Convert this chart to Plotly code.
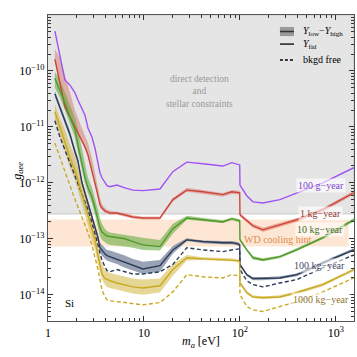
import plotly.graph_objects as go

# ---------------- data ----------------
m_eV = [1.18, 1.33, 1.50, 1.69, 1.91, 2.05, 2.26, 2.43, 2.61, 2.87, 3.09, 3.32, 3.48, 3.65,
        3.92, 4.12, 4.43, 5.23, 6.34, 7.68, 9.77, 14.7, 20.0, 28.0, 41.2, 66.5, 82.5, 95.3,
        99.7, 100.3, 118, 137, 174, 261, 392, 732, 1540]

# log10(g_aee) values
lg_100g = [-9.29, -9.71, -10.16, -10.25, -10.39, -10.52, -10.66, -10.79, -11.02, -11.18, -11.38, -11.63,
           -11.82, -11.91, -12.0, -12.05, -12.07, -12.04, -12.09, -12.13, -12.14, -12.11, -11.80, -11.63,
           -11.66, -11.70, -11.64, -11.68, -11.68, -12.04, -12.23, -12.34, -12.36, -12.30, -12.18, -12.0, -11.73]

lg_1kg = [-9.79, -10.21, -10.64, -10.82, -11.0, -11.09, -11.23, -11.36, -11.5, -11.77, -12.0, -12.23,
          -12.39, -12.45, -12.5, -12.52, -12.54, -12.54, -12.57, -12.61, -12.63, -12.63, -12.30, -12.13,
          -12.16, -12.21, -12.16, -12.18, -12.18, -12.57, -12.68, -12.77, -12.84, -12.75, -12.66, -12.48, -12.18]
lg_1kg_hi = [-9.61, -9.77, -10.07, -10.39, -10.70, -10.84, -11.02, -11.14, -11.29, -11.55, -11.80, -12.09,
             -12.27, -12.38, -12.45, -12.48, -12.50, -12.52, -12.54, -12.58, -12.60, -12.60, -12.27, -12.09,
             -12.13, -12.18, -12.13, -12.14, -12.14, -12.54, -12.64, -12.73, -12.80, -12.71, -12.63, -12.45, -12.14]
lg_1kg_lo = [-9.82, -10.25, -10.68, -10.86, -11.04, -11.13, -11.27, -11.39, -11.54, -11.80, -12.04, -12.27,
             -12.43, -12.48, -12.54, -12.55, -12.57, -12.57, -12.61, -12.64, -12.66, -12.66, -12.34, -12.16,
             -12.20, -12.25, -12.20, -12.21, -12.21, -12.61, -12.71, -12.80, -12.88, -12.79, -12.70, -12.52, -12.21]

lg_10kg = [-10.13, -10.34, -10.57, -10.82, -11.05, -11.32, -11.68, -11.91, -12.09, -12.25, -12.45, -12.66,
           -12.80, -12.88, -12.93, -12.95, -12.96, -12.98, -13.0, -13.05, -13.11, -13.14, -12.82, -12.63,
           -12.66, -12.70, -12.64, -12.68, -12.68, -13.02, -13.20, -13.34, -13.38, -13.32, -13.20, -12.98, -12.66]
lg_10kg_hi = [-10.02, -10.16, -10.38, -10.61, -10.84, -11.05, -11.41, -11.68, -11.91, -12.09, -12.27, -12.48,
              -12.63, -12.73, -12.82, -12.86, -12.89, -12.91, -12.93, -12.96, -12.98, -13.02, -12.73, -12.59,
              -12.63, -12.67, -12.62, -12.65, -12.65, -12.99, -13.17, -13.31, -13.35, -13.30, -13.17, -12.96, -12.63]
lg_10kg_lo = [-10.30, -10.48, -10.70, -10.96, -11.20, -11.45, -11.80, -12.0, -12.18, -12.36, -12.57, -12.80,
              -12.95, -13.02, -13.07, -13.09, -13.11, -13.13, -13.14, -13.16, -13.20, -13.21, -12.91, -12.66,
              -12.69, -12.72, -12.67, -12.71, -12.71, -13.04, -13.22, -13.37, -13.40, -13.35, -13.22, -13.01, -12.69]

lg_100kg = [-10.41, -10.64, -10.88, -11.13, -11.45, -11.61, -12.0, -12.18, -12.36, -12.61, -12.77, -12.98,
            -13.16, -13.21, -13.27, -13.30, -13.32, -13.36, -13.41, -13.46, -13.54, -13.48, -13.20, -13.02,
            -13.05, -13.07, -13.07, -13.09, -13.11, -13.46, -13.64, -13.71, -13.71, -13.70, -13.64, -13.43, -13.20]
lg_100kg_hi = [-10.36, -10.59, -10.82, -11.07, -11.39, -11.55, -11.95, -12.13, -12.30, -12.55, -12.71, -12.93,
               -13.07, -13.11, -13.16, -13.20, -13.21, -13.25, -13.30, -13.36, -13.41, -13.38, -13.13, -12.99,
               -13.03, -13.04, -13.04, -13.06, -13.08, -13.44, -13.62, -13.69, -13.69, -13.67, -13.62, -13.40, -13.17]
lg_100kg_lo = [-10.46, -10.70, -10.93, -11.18, -11.5, -11.66, -12.05, -12.23, -12.41, -12.66, -12.82, -13.04,
               -13.23, -13.30, -13.36, -13.39, -13.41, -13.45, -13.52, -13.57, -13.63, -13.59, -13.27, -13.04,
               -13.08, -13.10, -13.10, -13.12, -13.13, -13.49, -13.67, -13.74, -13.74, -13.72, -13.67, -13.46, -13.22]
lg_100kg_free = [-10.89, -11.18, -11.41, -11.64, -11.86, -12.0, -12.21, -12.34, -12.48, -12.71, -12.89, -13.11,
                 -13.25, -13.38, -13.50, -13.57, -13.59, -13.55, -13.59, -13.63, -13.63, -13.59, -13.46, -13.16,
                 -13.20, -13.23, -13.20, -13.18, -13.18, -13.55, -13.75, -13.82, -13.86, -13.79, -13.73, -13.52, -13.29]

lg_1000kg = [-10.73, -11.02, -11.27, -11.55, -11.77, -11.95, -12.21, -12.39, -12.61, -12.84, -13.02, -13.30,
             -13.48, -13.63, -13.71, -13.73, -13.75, -13.79, -13.82, -13.86, -13.88, -13.84, -13.55, -13.34,
             -13.36, -13.38, -13.38, -13.39, -13.41, -13.79, -13.96, -14.04, -14.05, -14.04, -13.96, -13.82, -13.55]
lg_1000kg_hi = [-10.59, -10.84, -11.05, -11.32, -11.54, -11.71, -11.98, -12.16, -12.38, -12.63, -12.82, -13.11,
                -13.29, -13.45, -13.55, -13.59, -13.61, -13.64, -13.68, -13.71, -13.73, -13.71, -13.45, -13.29,
                -13.33, -13.35, -13.35, -13.37, -13.38, -13.76, -13.94, -14.01, -14.03, -14.01, -13.94, -13.79, -13.53]
lg_1000kg_lo = [-10.88, -11.16, -11.45, -11.73, -11.95, -12.13, -12.39, -12.57, -12.79, -13.02, -13.20, -13.46,
                -13.61, -13.73, -13.82, -13.86, -13.88, -13.91, -13.95, -13.98, -14.0, -13.96, -13.66, -13.39,
                -13.38, -13.40, -13.40, -13.42, -13.44, -13.81, -13.99, -14.06, -14.08, -14.06, -13.99, -13.85, -13.58]
lg_1000kg_free = [-11.29, -11.55, -11.80, -12.04, -12.30, -12.43, -12.61, -12.75, -12.89, -13.11, -13.32, -13.55,
                  -13.73, -13.91, -14.04, -14.09, -14.11, -14.13, -14.14, -14.16, -14.18, -14.14, -13.95, -13.64,
                  -13.68, -13.70, -13.64, -13.66, -13.68, -14.0, -14.21, -14.27, -14.30, -14.21, -14.13, -13.95, -13.70]

# shaded regions
excl_floor = 2.8e-13          # direct detection + stellar constraints (above)
g_top = 1e-9
m_min, m_max = 1.0, 1540.0
wd_lo, wd_hi, wd_m_max = 7.3e-14, 2.2e-13, 1360.0

x_tickvals = [1, 10, 100, 1000]
x_ticktext = ["1", "10", "10<sup>2</sup>", "10<sup>3</sup>"]
y_tickvals = [1e-14, 1e-13, 1e-12, 1e-11, 1e-10]
y_ticktext = ["10<sup>\u221214</sup>", "10<sup>\u221213</sup>", "10<sup>\u221212</sup>",
              "10<sup>\u221211</sup>", "10<sup>\u221210</sup>"]

# ---------------- styling ----------------
C_PURPLE = "#a052f5"
C_RED = "#cf4437"
C_GREEN = "#4f9a2a"
C_NAVY = "#2b3b58"
C_GOLD = "#c9a923"
SERIF = "Liberation Serif"


def pw(v):
    return [10 ** a for a in v]


fig = go.Figure()

fig.add_trace(go.Scatter(x=[m_min, m_max, m_max, m_min], y=[excl_floor, excl_floor, g_top, g_top],
                         fill="toself", fillcolor="#e5e5e5", mode="lines",
                         line=dict(color="#d3d3d3", width=1.5), hoverinfo="skip", showlegend=False))
fig.add_trace(go.Scatter(x=[m_min, wd_m_max, wd_m_max, m_min], y=[wd_lo, wd_lo, wd_hi, wd_hi],
                         fill="toself", fillcolor="#fde7d4", mode="lines",
                         line=dict(width=0), hoverinfo="skip", showlegend=False))


def band(lo, hi, fillcolor):
    fig.add_trace(go.Scatter(x=m_eV, y=pw(hi), mode="lines", line=dict(width=0),
                             hoverinfo="skip", showlegend=False))
    fig.add_trace(go.Scatter(x=m_eV, y=pw(lo), mode="lines", line=dict(width=0),
                             fill="tonexty", fillcolor=fillcolor, hoverinfo="skip", showlegend=False))


def line(v, color, dash="solid", width=1.4):
    fig.add_trace(go.Scatter(x=m_eV, y=pw(v), mode="lines",
                             line=dict(color=color, width=width, dash=dash),
                             hoverinfo="skip", showlegend=False))


band(lg_1kg_lo, lg_1kg_hi, "rgba(210,90,80,0.40)")
band(lg_10kg_lo, lg_10kg_hi, "rgba(95,165,55,0.55)")
band(lg_100kg_lo, lg_100kg_hi, "rgba(70,88,120,0.55)")
band(lg_1000kg_lo, lg_1000kg_hi, "rgba(205,175,45,0.50)")

line(lg_100g, C_PURPLE)
line(lg_1kg, C_RED)
line(lg_10kg, C_GREEN)
line(lg_100kg, C_NAVY)
line(lg_100kg_free, C_NAVY, dash="4px,2.5px")
line(lg_1000kg, C_GOLD)
line(lg_1000kg_free, C_GOLD, dash="4px,2.5px")

x_minor = [k * 10 ** d for d in range(0, 4) for k in range(2, 10) if k * 10 ** d <= m_max]
y_minor = [k * 10.0 ** d for d in range(-15, -9) for k in range(2, 10)]

axis_common = dict(type="log", showgrid=False, zeroline=False, showline=True, mirror="allticks",
                   linecolor="#555555", linewidth=1.3, ticks="inside", ticklen=5, tickwidth=1,
                   tickcolor="#333333", tickfont=dict(family=SERIF, size=12, color="black"),
                   tickmode="array")

fig.update_xaxes(**axis_common, range=[0, 3.19], tickvals=x_tickvals, ticktext=x_ticktext,
                 minor=dict(tickmode="array", tickvals=x_minor, ticks="inside", ticklen=2.5,
                            tickcolor="#333333", showgrid=False))
fig.update_yaxes(**axis_common, range=[-14.47, -9.0], tickvals=y_tickvals, ticktext=y_ticktext,
                 minor=dict(tickmode="array", tickvals=y_minor, ticks="inside", ticklen=2.5,
                            tickcolor="#333333", showgrid=False))

ann = []
# axis titles
ann.append(dict(xref="paper", yref="paper", x=0.5, y=-0.1, text="<i>m</i><sub><i>a</i></sub> [eV]",
                showarrow=False, font=dict(family=SERIF, size=12, color="black")))
ann.append(dict(xref="paper", yref="paper", x=-0.132, y=0.49, text="<i>g</i><sub><i>aee</i></sub>",
                textangle=-90, showarrow=False, font=dict(family=SERIF, size=12, color="black")))
# region texts
ann.append(dict(x=1.583, y=-10.36, text="direct detection<br>and<br>stellar constraints",
                showarrow=False, font=dict(family=SERIF, size=9.5, color="#999999")))
ann.append(dict(x=0.229, y=-14.14, text="Si", showarrow=False,
                font=dict(family=SERIF, size=11, color="black")))
ann.append(dict(x=2.396, y=-13.02, text="WD cooling hint", showarrow=False,
                font=dict(family=SERIF, size=10, color="#dd8b4c")))
# exposure labels
for txt, xx, yy, col in [("100 g\u2212year", 2.844, -12.05, "#7f45d0"),
                         ("1 kg\u2212year", 2.844, -12.55, "#8e3b35"),
                         ("10 kg\u2212year", 2.833, -12.84, "#3f6b27"),
                         ("100 kg\u2212year", 2.833, -13.48, "#3d4a66"),
                         ("1000 kg\u2212year", 2.844, -14.09, "#8c7634")]:
    ann.append(dict(x=xx, y=yy, text=txt, showarrow=False, bgcolor="rgba(255,255,255,0.6)",
                    borderpad=1, font=dict(family=SERIF, size=10, color=col)))

# manual legend
LX0, LX1, LXT = 0.758, 0.804, 0.827
shapes = [
    dict(type="rect", xref="paper", yref="paper", x0=LX0, x1=LX1, y0=0.931, y1=0.961,
         fillcolor="#9a9a9a", line=dict(width=0)),
    dict(type="line", xref="paper", yref="paper", x0=LX0, x1=LX1, y0=0.946, y1=0.946,
         line=dict(color="#333333", width=1.5)),
    dict(type="line", xref="paper", yref="paper", x0=LX0, x1=LX1, y0=0.905, y1=0.905,
         line=dict(color="black", width=1.3)),
    dict(type="line", xref="paper", yref="paper", x0=LX0, x1=LX1, y0=0.853, y1=0.853,
         line=dict(color="black", width=1.3, dash="3px,2px")),
]
for txt, yy in [("<i>Y</i><sub>low</sub>\u2212<i>Y</i><sub>high</sub>", 0.946),
                ("<i>Y</i><sub>fid</sub>", 0.905),
                ("bkgd free", 0.853)]:
    ann.append(dict(xref="paper", yref="paper", x=LXT, y=yy, xanchor="left", yanchor="middle",
                    text=txt, showarrow=False, font=dict(family=SERIF, size=10, color="black")))

fig.update_layout(width=357, height=357, margin=dict(l=48, r=3, t=15, b=36),
                  plot_bgcolor="white", paper_bgcolor="white", showlegend=False,
                  annotations=ann, shapes=shapes)

fig.write_html("out.html", config={"displayModeBar": False},
               post_script="document.body.style.margin='0';document.body.style.padding='0';")
